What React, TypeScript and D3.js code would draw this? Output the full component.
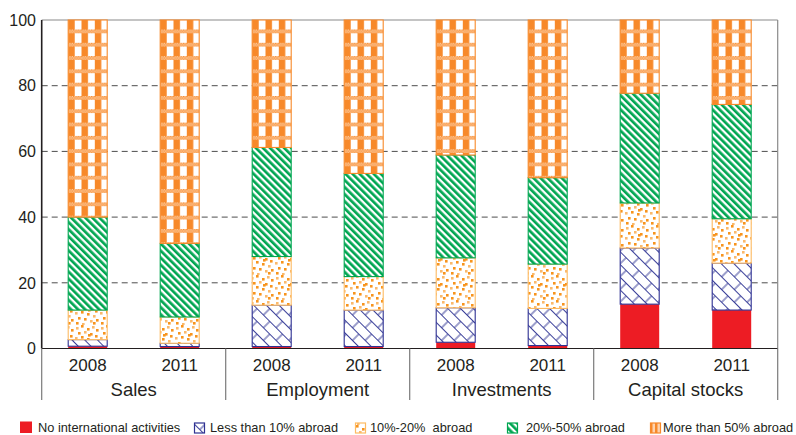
import React from "react";
import * as d3 from "d3";

const groups = ["Sales", "Employment", "Investments", "Capital stocks"];
const years = ["2008", "2011"];
const seriesNames = [
  "No international activities",
  "Less than 10% abroad",
  "10%-20%  abroad",
  "20%-50% abroad",
  "More than 50% abroad",
];
// Shares (%) per bar, order: Sales 2008, Sales 2011, Employment 2008, ...
const noIntl = [0.7, 0.6, 0.6, 0.6, 1.9, 0.9, 13.5, 11.7];
const below10 = [2.0, 1.0, 12.6, 11.1, 10.5, 11.3, 17.1, 14.3];
const from10to20 = [9.0, 8.0, 14.8, 10.2, 15.2, 13.5, 13.7, 13.5];
const from20to50 = [28.3, 22.4, 33.2, 31.4, 31.3, 26.3, 33.4, 34.8];
const above50 = [60.0, 68.0, 38.8, 46.7, 41.1, 48.0, 22.3, 25.7];
const yTicks = [0, 20, 40, 60, 80, 100];

const W = 796;
const H = 435;
const left = 41.7;
const right = 777.7;
const top = 20;
const bottom = 348.5;

const fills = ["url(#pRed)", "url(#pBlue)", "url(#pDots)", "url(#pGreen)", "plaid"];
const strokes = ["#ED1C24", "#2E3192", "#FDBB63", "#00A651", "#F7892A"];

// scattered square positions inside the dot tile
const dotTile = [
  [1, 2], [6, 0], [12, 3], [17, 1], [21, 4], [3, 7], [9, 6], [15, 8], [20, 10],
  [0, 12], [6, 11], [12, 13], [18, 15], [3, 17], [9, 18], [15, 20], [21, 19],
  [1, 22], [7, 23], [13, 9], [18, 22],
];

export default function App() {
  const rows = groups.flatMap((g, gi) =>
    years.map((yr, yi) => {
      const i = gi * 2 + yi;
      return {
        group: g,
        year: yr,
        key: `${gi}-${yi}`,
        s0: noIntl[i],
        s1: below10[i],
        s2: from10to20[i],
        s3: from20to50[i],
        s4: above50[i],
      };
    })
  );
  const keys = ["s0", "s1", "s2", "s3", "s4"];
  const stacked = d3.stack<any>().keys(keys)(rows);

  const x0 = d3.scaleBand<string>().domain(groups).range([left, right]);
  const x1 = d3.scaleBand<string>().domain(years).range([0, x0.bandwidth()]);
  const barW = 39;
  const y = d3.scaleLinear().domain([0, 100]).range([bottom, top]);

  const barX = (r: any) => x0(r.group)! + x1(r.year)! + (x1.bandwidth() - barW) / 2;

  const legendX = [20, 194, 355, 507, 650];
  const legendTextX = [38, 210, 370, 526, 663];

  return (
    <svg
      width={W}
      height={H}
      style={{ position: "absolute", left: 0, top: 0, background: "#fff" }}
      fontFamily="'Liberation Sans', Arial, sans-serif"
    >
      <defs>
        <pattern id="pRed" width="4" height="4" patternUnits="userSpaceOnUse">
          <rect width="4" height="4" fill="#ED1C24" />
        </pattern>
        <pattern
          id="pBlue"
          width="18"
          height="18"
          patternUnits="userSpaceOnUse"
          patternTransform="rotate(45)"
        >
          <rect width="18" height="18" fill="#fff" />
          <line x1="0" y1="0.5" x2="18" y2="0.5" stroke="#3A3F99" strokeWidth="1" />
          <line x1="0" y1="9.5" x2="18" y2="9.5" stroke="#3A3F99" strokeWidth="1" />
          <line x1="4" y1="0.5" x2="4" y2="9.5" stroke="#3A3F99" strokeWidth="1" />
          <line x1="13" y1="9.5" x2="13" y2="18" stroke="#3A3F99" strokeWidth="1" />
        </pattern>
        <pattern id="pDots" width="25" height="25" patternUnits="userSpaceOnUse">
          <rect width="25" height="25" fill="#fff" />
          {dotTile.map(([dx, dy], k) => (
            <rect key={k} x={dx} y={dy} width="2.6" height="2.6" fill="#F7941D" opacity={k % 3 === 0 ? 0.65 : 1} />
          ))}
        </pattern>
        <pattern
          id="pGreen"
          width="5"
          height="5"
          patternUnits="userSpaceOnUse"
          patternTransform="rotate(-45)"
        >
          <rect width="5" height="5" fill="#fff" />
          <rect width="2.7" height="5" fill="#00A651" />
        </pattern>
        <pattern id="pCheck" width="2.4" height="2.4" patternUnits="userSpaceOnUse">
          <rect width="2.4" height="2.4" fill="#FDD3AE" />
          <rect width="1.2" height="1.2" fill="#F7892A" />
          <rect x="1.2" y="1.2" width="1.2" height="1.2" fill="#F7892A" />
        </pattern>
        {rows.map((r) => (
          <pattern
            key={r.key}
            id={`pPlaid-${r.key}`}
            x={barX(r)}
            y={y(100)}
            width="13.3"
            height="13.3"
            patternUnits="userSpaceOnUse"
          >
            <rect width="13.3" height="13.3" fill="#fff" />
            <rect width="6.5" height="13.3" fill="#F7892A" />
            <rect y="9.5" width="13.3" height="4.2" fill="url(#pCheck)" />
          </pattern>
        ))}
        <pattern id="pPlaidLegend" x="650" y="423" width="5" height="5" patternUnits="userSpaceOnUse">
          <rect width="5" height="5" fill="#FDD3AE" />
          <rect width="2.5" height="5" fill="#F7892A" />
        </pattern>
      </defs>

      {/* gridlines */}
      {yTicks.filter((t) => t > 0 && t < 100).map((t) => (
        <line key={t} x1={left} x2={right} y1={y(t)} y2={y(t)} stroke="#4d4d4d" strokeWidth={1} strokeDasharray="6,4" />
      ))}
      <line x1={left} x2={right} y1={y(100)} y2={y(100)} stroke="#8a8a8a" strokeWidth={1.2} />
      <line x1={right} x2={right} y1={y(100)} y2={y(0)} stroke="#8a8a8a" strokeWidth={1.2} />

      {/* stacked bars */}
      {stacked.map((layer, li) =>
        layer.map((seg, ri) => {
          const r = rows[ri];
          const fill = li === 4 ? `url(#pPlaid-${r.key})` : fills[li];
          const y0 = y(seg[1]);
          const h = y(seg[0]) - y(seg[1]);
          return (
            <rect
              key={`${li}-${ri}`}
              x={barX(r)}
              y={y0}
              width={barW}
              height={h}
              fill={fill}
              stroke={strokes[li]}
              strokeWidth={li === 0 ? 0 : 1.1}
            />
          );
        })
      )}

      {/* axes */}
      <line x1={left} x2={left} y1={y(100)} y2={y(0)} stroke="#231F20" strokeWidth={1.6} />
      <line x1={left} x2={right} y1={y(0)} y2={y(0)} stroke="#231F20" strokeWidth={1.1} />
      {yTicks.map((t) => (
        <text key={t} x={36} y={y(t)} dy="0.36em" textAnchor="end" fontSize={16} fill="#231F20">
          {t}
        </text>
      ))}

      {/* group separators and labels */}
      {[...groups.map((g) => x0(g)!), right].map((xv, k) => (
        <line key={k} x1={xv} x2={xv} y1={y(0)} y2={400} stroke="#7a7a7a" strokeWidth={1.2} />
      ))}
      {rows.map((r) => (
        <text
          key={`yr-${r.key}`}
          x={barX(r) + barW / 2}
          y={371}
          textAnchor="middle"
          fontSize={17}
          fill="#231F20"
        >
          {r.year}
        </text>
      ))}
      {groups.map((g) => (
        <text key={g} x={x0(g)! + x0.bandwidth() / 2} y={396} textAnchor="middle" fontSize={18.5} fill="#231F20">
          {g}
        </text>
      ))}

      {/* legend */}
      {seriesNames.map((name, k) => (
        <g key={name}>
          {k === 0 ? (
            <rect x={legendX[k]} y={421.5} width={12} height={11.5} fill="#ED1C24" />
          ) : (
            <rect
              x={legendX[k] + 0.5}
              y={423}
              width={10}
              height={10}
              fill={k === 4 ? "url(#pPlaidLegend)" : fills[k]}
              stroke={strokes[k]}
              strokeWidth={1.2}
            />
          )}
          <text x={legendTextX[k]} y={432} fontSize={12.8} fill="#231F20" style={{ whiteSpace: "pre" }}>
            {name}
          </text>
        </g>
      ))}
    </svg>
  );
}
